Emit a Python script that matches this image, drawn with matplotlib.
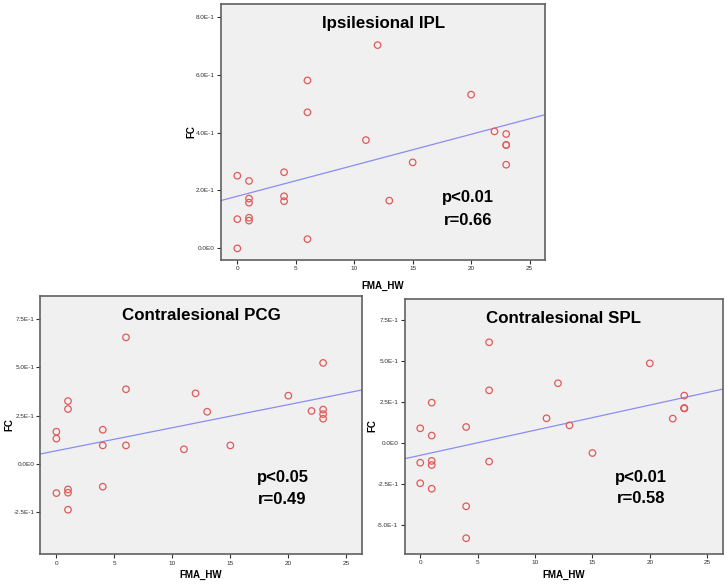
import numpy as np
import matplotlib
matplotlib.use('Agg')
import matplotlib.pyplot as plt

plt.rcParams['font.family'] = ['Liberation Sans', 'DejaVu Sans']

# FMA_HW score of each subject (same for the three panels)
fma_hw = [0, 0, 0, 1, 1, 1, 1, 1, 4, 4, 4, 6, 6, 6, 11, 12, 13, 15, 20, 22, 23, 23, 23, 23]

# FC values
fc_ipl = [0.251, 0.101, 0.0, 0.233, 0.172, 0.158, 0.106, 0.096, 0.263, 0.180, 0.163,
          0.580, 0.470, 0.032, 0.374, 0.702, 0.165, 0.297, 0.531, 0.404, 0.395, 0.357, 0.357, 0.289]
fc_pcg = [0.167, 0.131, -0.150, 0.325, 0.284, -0.131, -0.148, -0.236, 0.177, 0.096, -0.117,
          0.654, 0.386, 0.096, 0.076, 0.365, 0.270, 0.096, 0.353, 0.274, 0.522, 0.281, 0.258, 0.234]
fc_spl = [0.089, -0.120, -0.245, 0.245, 0.045, -0.109, -0.134, -0.278, 0.097, -0.385, -0.579,
          0.612, 0.320, -0.113, 0.150, 0.363, 0.107, -0.061, 0.484, 0.148, 0.288, 0.211, 0.211, 0.211]

titles = ['Ipsilesional IPL', 'Contralesional PCG', 'Contralesional SPL']
p_text = ['p<0.01', 'p<0.05', 'p<0.01']
r_text = ['r=0.66', 'r=0.49', 'r=0.58']

x_ticks = [0, 5, 10, 15, 20, 25]
ipl_ticks = [0.0, 0.2, 0.4, 0.6, 0.8]
ipl_ticklabels = ['0.0E0', '2.0E-1', '4.0E-1', '6.0E-1', '8.0E-1']
pcg_ticks = [-0.25, 0.0, 0.25, 0.5, 0.75]
pcg_ticklabels = ['-2.5E-1', '0.0E0', '2.5E-1', '5.0E-1', '7.5E-1']
spl_ticks = [-0.5, -0.25, 0.0, 0.25, 0.5, 0.75]
spl_ticklabels = ['-5.0E-1', '-2.5E-1', '0.0E0', '2.5E-1', '5.0E-1', '7.5E-1']

W, H = 727, 587
fig = plt.figure(figsize=(W / 100, H / 100), dpi=100)

# axes boxes [left, bottom, width, height] in figure fraction
ax_top = fig.add_axes([0.3044, 0.5571, 0.4457, 0.4361])
ax_bl = fig.add_axes([0.0557, 0.0554, 0.4422, 0.4395])
ax_br = fig.add_axes([0.5564, 0.0562, 0.4377, 0.4344])

# (axes, data, yticks, yticklabels, ylim, text pos, xlabel pixel pos, ylabel pixel pos)
panels = [
    (ax_top, fc_ipl, ipl_ticks, ipl_ticklabels, (-0.040, 0.844), (0.762, 0.245, 0.153),
     (383, 286), (191, 132)),
    (ax_bl, fc_pcg, pcg_ticks, pcg_ticklabels, (-0.467, 0.865), (0.753, 0.299, 0.214),
     (201, 575), (9, 425)),
    (ax_br, fc_spl, spl_ticks, spl_ticklabels, (-0.675, 0.875), (0.744, 0.299, 0.218),
     (564, 575), (372, 426)),
]

xlim = (-1.37, 26.35)
for i, (ax, fc, yt, ytl, ylim, txt_pos, xl, yl) in enumerate(panels):
    ax.set_facecolor('#f0f0f0')
    x = np.array(fma_hw, dtype=float)
    y = np.array(fc)
    ax.scatter(x, y, s=22, facecolors='none', edgecolors='#e05a5a', linewidths=0.9, zorder=3)
    # linear fit line across the whole x range
    k, b = np.polyfit(x, y, 1)
    xx = np.array(xlim)
    ax.plot(xx, k * xx + b, color='#8c8cf0', linewidth=0.9, zorder=2)
    ax.set_xlim(*xlim)
    ax.set_ylim(*ylim)
    ax.set_xticks(x_ticks)
    ax.set_xticklabels([str(t) for t in x_ticks])
    ax.set_yticks(yt)
    ax.set_yticklabels(ytl)
    ax.tick_params(direction='out', length=3, width=0.8, labelsize=4.6, colors='#303030', pad=1.5)
    for sp in ax.spines.values():
        sp.set_color('#606060')
        sp.set_linewidth(1.2)
    fig.text(xl[0] / W, 1 - xl[1] / H, 'FMA_HW', ha='center', va='center',
             fontsize=7, fontweight='bold')
    fig.text(yl[0] / W, 1 - yl[1] / H, 'FC', ha='center', va='center', rotation=90,
             fontsize=7, fontweight='bold')
    ax.text(0.5, 0.925, titles[i], transform=ax.transAxes, ha='center', va='center',
            fontsize=12.2, fontweight='bold')
    tx, py, ry = txt_pos
    ax.text(tx, py, p_text[i], transform=ax.transAxes, ha='center', va='center',
            fontsize=12, fontweight='bold')
    ax.text(tx, ry, r_text[i], transform=ax.transAxes, ha='center', va='center',
            fontsize=12, fontweight='bold')

plt.savefig('out.png', dpi=100)
